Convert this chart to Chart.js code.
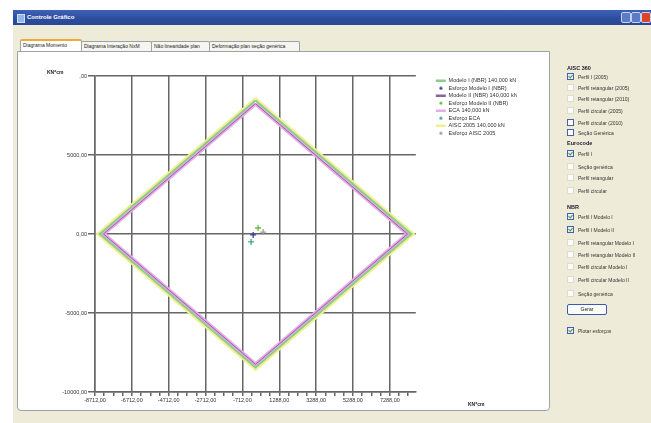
<!DOCTYPE html>
<html>
<head>
<meta charset="utf-8">
<script src="https://cdn.jsdelivr.net/npm/chart.js@4.4.0/dist/chart.umd.min.js"></script>
<style>
  body { margin: 0; width: 651px; height: 423px; background: #fff; position: relative; overflow: hidden;
         font-family: "Liberation Sans", Arial, sans-serif; }
  .abs { position: absolute; }
  #win { left: 13px; top: 10px; right: 0; bottom: 0; background: #eeecd8; }
  #title { left: 13px; top: 10px; right: 0; height: 15px; background: linear-gradient(#3e62b8, #2c4c9c 60%, #2a4794); }
  #title span { position: absolute; left: 14px; top: 0; line-height: 15px; font-size: 6px; color: #fff; font-weight: bold; }
  #title i { position: absolute; left: 4px; top: 4px; width: 6px; height: 7px; background: #8fb8e8; border: 1px solid #cfe0f5; }
  .wbtn { top: 12px; width: 8px; height: 9px; border: 1px solid #c8d2ea; border-radius: 2px; background: #5a7bc8; }
  .tab { top: 41px; height: 9px; border: 1px solid #9aa3a6; border-bottom: none; background: #f6f5ef;
         font-size: 5px; line-height: 9px; padding: 0 2px; color: #222; white-space: nowrap; border-radius: 2px 2px 0 0; }
  #panel { left: 17px; top: 51px; width: 531px; height: 358px; background: #fff; border: 1px solid #9aa3a6; border-radius: 0 0 4px 4px; }
  .unit { font-size: 5px; font-weight: bold; color: #222; }
  .grp { font-size: 5.5px; font-weight: bold; color: #223; left: 567px; }
  .opt { left: 567px; font-size: 5px; color: #333; white-space: nowrap; line-height: 7px; }
  .opt b { display: inline-block; width: 5px; height: 5px; border: 1px solid #dcdcd0; background: #fbfbf8;
           vertical-align: middle; margin-right: 4px; position: relative; top: -1px; }
  .opt b.on { border-color: #4a5fa8; background: #e8eef8; }
  .opt b.on::after { content: ""; position: absolute; left: 1px; top: 0; width: 2px; height: 3px;
                     border: solid #3fa33f; border-width: 0 1px 1px 0; transform: rotate(40deg); }
  .opt b.blue { border-color: #4a5fa8; }
  #gerar { left: 567px; top: 304px; width: 38px; height: 9px; border: 1px solid #3c58b0; border-radius: 2px;
           background: #fbfbf8; font-size: 5px; text-align: center; line-height: 9px; color: #222; }
  #chartBox { left: 18px; top: 52px; width: 528px; height: 354px; }
</style>
</head>
<body>
<div id="win" class="abs"></div>
<div id="title" class="abs"><i></i><span>Controle Gráfico</span></div>
<div class="abs wbtn" style="left:621px"></div>
<div class="abs wbtn" style="left:631px"></div>
<div class="abs wbtn" style="left:641px;background:#d9442a"></div>

<div class="abs tab" style="left:20px;top:39px;height:11px;width:56px;background:#fff;border-top:2px solid #f2a93b">Diagrama Momento</div>
<div class="abs tab" style="left:81px;width:65px">Diagrama Interação NxM</div>
<div class="abs tab" style="left:151px;width:53px">Não linearidade plan</div>
<div class="abs tab" style="left:209px;width:85px">Deformação plan seção genérica</div>
<div id="panel" class="abs"></div>

<div id="chartBox" class="abs"><canvas id="grafico"></canvas></div>
<div class="abs unit" style="left:47px;top:69px">KN*cm</div>
<div class="abs unit" style="left:468px;top:401px">KN*cm</div>

<div class="abs grp" style="top:65px">AISC 360</div>
<div class="abs opt" style="top:74px"><b class="on"></b>Perfil I (2005)</div>
<div class="abs opt" style="top:85px"><b></b>Perfil retangular (2005)</div>
<div class="abs opt" style="top:96px"><b></b>Perfil retangular (2010)</div>
<div class="abs opt" style="top:108px"><b></b>Perfil circular (2005)</div>
<div class="abs opt" style="top:120px"><b class="blue"></b>Perfil circular (2010)</div>
<div class="abs opt" style="top:130px"><b class="blue"></b>Seção Genérica</div>
<div class="abs grp" style="top:140px">Eurocode</div>
<div class="abs opt" style="top:151px"><b class="on"></b>Perfil I</div>
<div class="abs opt" style="top:164px"><b></b>Seção genérica</div>
<div class="abs opt" style="top:175px"><b></b>Perfil retangular</div>
<div class="abs opt" style="top:188px"><b></b>Perfil circular</div>
<div class="abs grp" style="top:204px">NBR</div>
<div class="abs opt" style="top:214px"><b class="on"></b>Perfil I Modelo I</div>
<div class="abs opt" style="top:227px"><b class="on"></b>Perfil I Modelo II</div>
<div class="abs opt" style="top:240px"><b></b>Perfil retangular Modelo I</div>
<div class="abs opt" style="top:252px"><b></b>Perfil retangular Modelo II</div>
<div class="abs opt" style="top:264px"><b></b>Perfil circular Modelo I</div>
<div class="abs opt" style="top:277px"><b></b>Perfil circular Modelo II</div>
<div class="abs opt" style="top:291px"><b></b>Seção genérica</div>
<div id="gerar" class="abs">Gerar</div>
<div class="abs opt" style="top:328px"><b class="on"></b>Plotar esforços</div>

<script>
// eixos
const xMin = -8712;
const xMax = 8700;
const xTicks = [-8712, -6712, -4712, -2712, -712, 1288, 3288, 5288, 7288];
const xTickLabels = ['-8712,00', '-6712,00', '-4712,00', '-2712,00', '-712,00', '1288,00', '3288,00', '5288,00', '7288,00'];
const yTicks = [10000, 5000, 0, -5000, -10000];
const yTickLabels = [',00', '5000,00', '0,00', '-5000,00', '-10000,00'];

// envoltorias (Mx, My) - topo, direita, base, esquerda, topo
const modeloIX = [0, 8450, 0, -8450, 0];
const modeloIY = [8450, 0, -8450, 0, 8450];
const modeloIIX = [0, 8250, 0, -8250, 0];
const modeloIIY = [8250, 0, -8250, 0, 8250];
const ecaX = [0, 8250, 0, -8250, 0];
const ecaY = [8250, 0, -8250, 0, 8250];
const aiscX = [0, 8600, 0, -8600, 0];
const aiscY = [8600, 0, -8600, 0, 8600];

// esforcos solicitantes
const esfModeloI = [-130, -60];
const esfModeloII = [140, 380];
const esfEca = [-240, -500];
const esfAisc = [415, 125];

const pts = (xs, ys) => xs.map((x, i) => ({ x: x, y: ys[i] }));

function ponto(cor) {
  const c = document.createElement('canvas');
  c.width = 4; c.height = 4;
  const g = c.getContext('2d');
  g.fillStyle = cor;
  g.beginPath(); g.arc(2, 2, 1.6, 0, Math.PI * 2); g.fill();
  return c;
}

function linha(label, dados, cor, largura) {
  return { label: label, data: dados, showLine: true, borderColor: cor, backgroundColor: cor,
           borderWidth: largura, pointRadius: 0, pointStyle: 'line', tension: 0 };
}
function esforco(label, p, cor) {
  return { label: label, data: [{ x: p[0], y: p[1] }], borderColor: cor, backgroundColor: cor,
           pointStyle: 'cross', pointRadius: 3, borderWidth: 1.3, legendDot: ponto(cor) };
}

Chart.defaults.font.family = '"Liberation Sans", Arial, sans-serif';
Chart.defaults.color = '#333';

new Chart(document.getElementById('grafico'), {
  type: 'scatter',
  data: {
    datasets: [
      linha('Modelo I (NBR) 140,000 kN', pts(modeloIX, modeloIY), '#8ccc8c', 2),
      esforco('Esforço Modelo I (NBR)', esfModeloI, '#2f3f9c'),
      linha('Modelo II (NBR) 140,000 kN', pts(modeloIIX, modeloIIY), '#8a62a6', 1),
      esforco('Esforço Modelo II (NBR)', esfModeloII, '#66bb44'),
      linha('ECA 140,000 kN', pts(ecaX, ecaY), '#eaaae6', 4),
      esforco('Esforço ECA', esfEca, '#48a878'),
      linha('AISC 2005 140,000 kN', pts(aiscX, aiscY), '#f2f08c', 2),
      esforco('Esforço AISC 2005', esfAisc, '#9aa0a0')
    ]
  },
  options: {
    responsive: true,
    maintainAspectRatio: false,
    animation: false,
    layout: { padding: { top: 24, right: 29, left: 0, bottom: 0 } },
    plugins: {
      tooltip: { enabled: false },
      legend: {
        position: 'right',
        align: 'start',
        labels: {
          usePointStyle: true,
          pointStyleWidth: 10,
          boxHeight: 4,
          padding: 2,
          color: '#333',
          font: { size: 5.5 },
          generateLabels: chart => {
            const itens = Chart.defaults.plugins.legend.labels.generateLabels(chart);
            itens.forEach(it => {
              const ds = chart.data.datasets[it.datasetIndex];
              if (ds.legendDot) { it.pointStyle = ds.legendDot; }
              else { it.lineWidth = 2.5; it.strokeStyle = ds.borderColor; }
            });
            return itens;
          }
        }
      }
    },
    scales: {
      x: {
        type: 'linear',
        min: xMin,
        max: xMax,
        afterBuildTicks: s => {
          const t = [];
          for (let v = xMin; v <= xMax; v += 500) t.push({ value: v, major: xTicks.includes(v) });
          s.ticks = t;
        },
        afterFit: s => { s.height = 14; },
        grid: {
          color: c => (c.tick && c.tick.major) ? '#666' : 'rgba(0,0,0,0)',
          tickColor: '#666',
          tickLength: 4,
          lineWidth: 1.5
        },
        border: { color: '#666', width: 1.5 },
        ticks: {
          autoSkip: false,
          maxRotation: 0,
          padding: 1,
          font: { size: 5.5 },
          color: '#333',
          callback: (v, i, t) => t[i].major ? xTickLabels[xTicks.indexOf(v)] : ''
        }
      },
      y: {
        type: 'linear',
        min: -10000,
        max: 10000,
        afterBuildTicks: s => { s.ticks = yTicks.map(v => ({ value: v })); },
        afterFit: s => { s.width = 77; },
        grid: { color: '#666', tickColor: '#666', tickLength: 7, lineWidth: 1.5 },
        border: { color: '#666', width: 1.5 },
        ticks: {
          padding: 1,
          font: { size: 5.5 },
          color: '#333',
          callback: v => yTickLabels[yTicks.indexOf(v)]
        }
      },
      // espaco vazio entre a area do grafico e a legenda
      folga: {
        type: 'linear',
        position: 'right',
        display: true,
        afterFit: s => { s.width = 18; },
        grid: { display: false },
        border: { display: false },
        ticks: { display: false }
      }
    }
  }
});
</script>
</body>
</html>
